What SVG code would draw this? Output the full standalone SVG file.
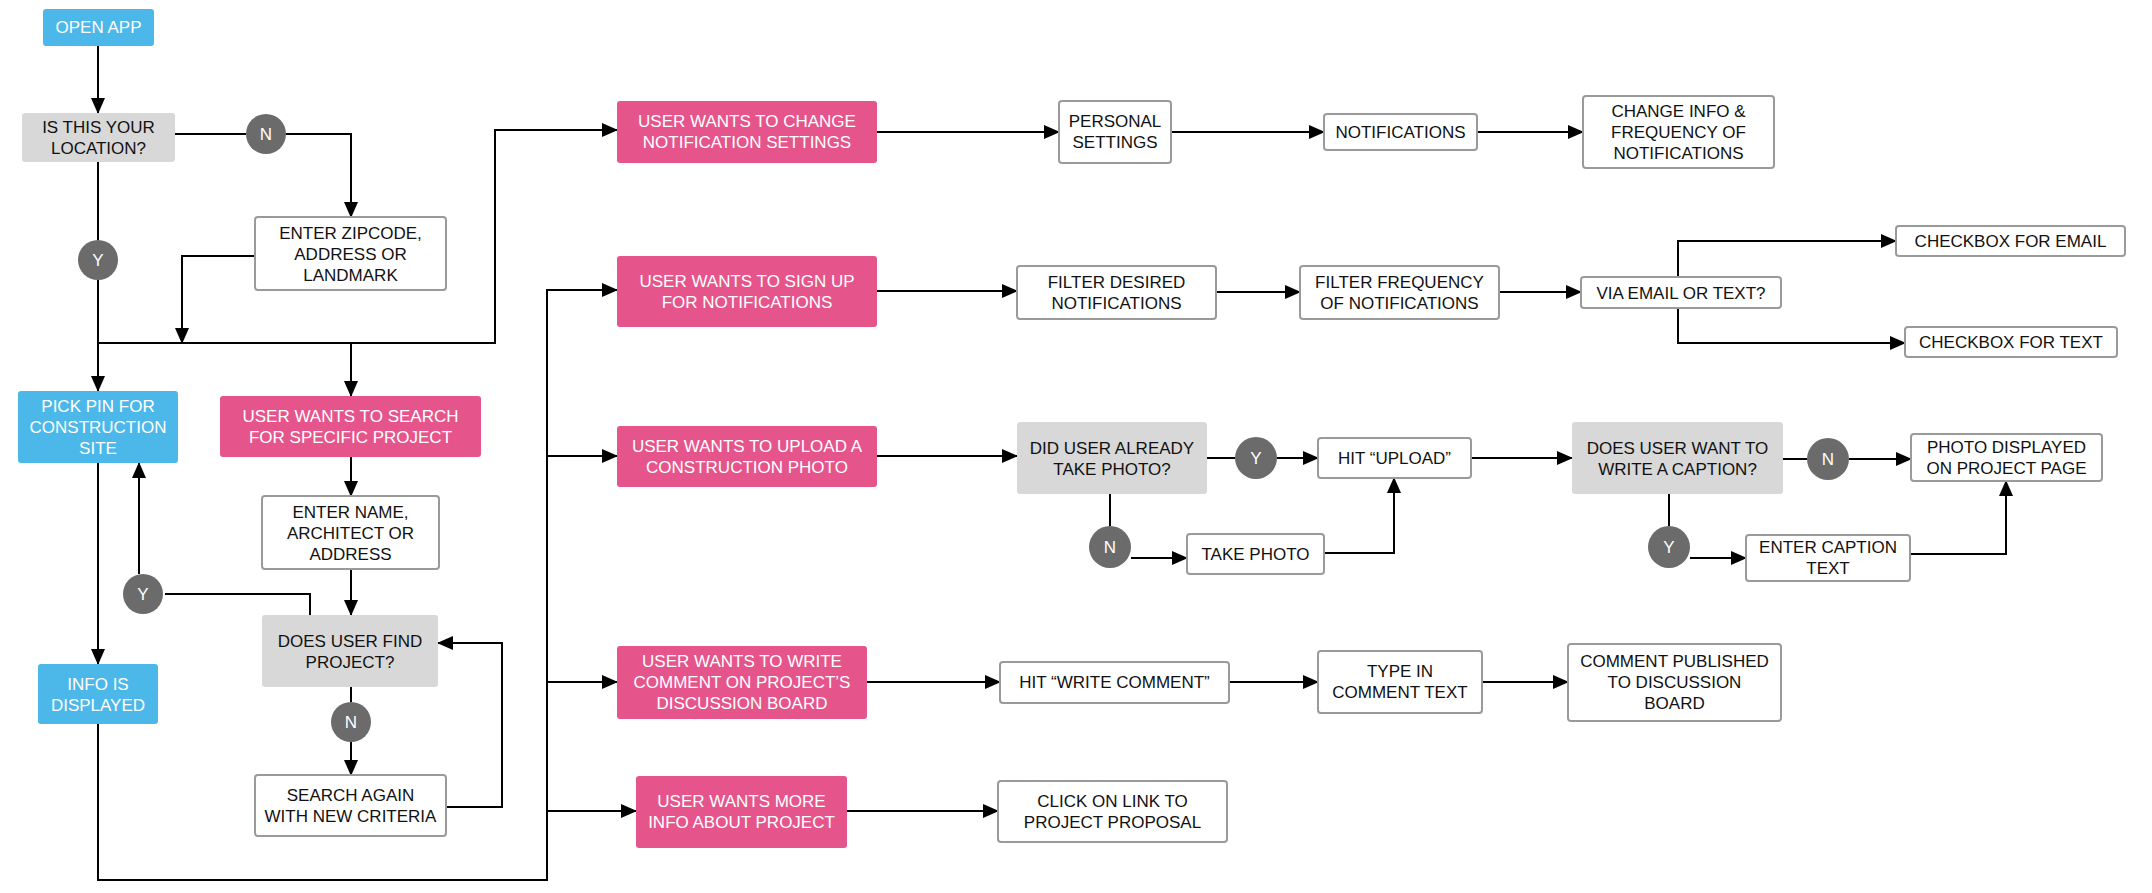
<svg xmlns="http://www.w3.org/2000/svg" width="2152" height="893" viewBox="0 0 2152 893">
<defs>
<style>
text{font-family:"Liberation Sans",Arial,sans-serif;font-size:17px;text-anchor:middle;dominant-baseline:central}
.blue{fill:#4cb8e9}.pink{fill:#e5558b}.gray{fill:#d8d8d8}
.wb{fill:#fff;stroke:#9a9a9a;stroke-width:2}
.wt{fill:#fff}.bt{fill:#111}
.c{fill:#6b6b6b}
.ln{fill:none;stroke:#000;stroke-width:2}
.a{marker-end:url(#ar)}
</style>
<marker id="ar" markerUnits="userSpaceOnUse" markerWidth="16" markerHeight="14" refX="15" refY="7" orient="auto"><path d="M0,0L16,7L0,14Z" fill="#000"/></marker>
</defs>
<rect width="2152" height="893" fill="#fff"/>
<g id="connectors">
<path class="ln a" d="M98,46V113"/>
<path class="ln" d="M175,134H246"/><path class="ln a" d="M286,134H351V217"/>
<path class="ln" d="M98,162V240"/><path class="ln a" d="M98,280V391"/>
<path class="ln a" d="M255,256H182V343"/>
<path class="ln a" d="M98,343H495V130H617"/>
<path class="ln a" d="M351,343V396"/>
<path class="ln a" d="M351,457V496"/>
<path class="ln a" d="M351,569V615"/>
<path class="ln" d="M310,615V594H165"/><path class="ln a" d="M139,574V463"/>
<path class="ln" d="M351,687V702"/><path class="ln a" d="M351,742V775"/>
<path class="ln a" d="M446,807H502V643H438"/>
<path class="ln a" d="M98,463V664"/>
<path class="ln a" d="M98,724V880H547V290H617"/>
<path class="ln a" d="M547,456H617"/><path class="ln a" d="M547,682H617"/><path class="ln a" d="M547,811H636"/>
<path class="ln a" d="M877,132H1059"/><path class="ln a" d="M1171,132H1324"/><path class="ln a" d="M1477,132H1583"/>
<path class="ln a" d="M877,291H1017"/><path class="ln a" d="M1216,292H1300"/><path class="ln a" d="M1499,292H1581"/>
<path class="ln a" d="M1678,277V241H1896"/><path class="ln a" d="M1678,308V343H1905"/>
<path class="ln a" d="M877,456H1017"/><path class="ln" d="M1207,458H1235"/><path class="ln a" d="M1277,458H1318"/>
<path class="ln a" d="M1471,458H1572"/><path class="ln" d="M1783,459H1807"/><path class="ln a" d="M1849,459H1911"/>
<path class="ln" d="M1110,494V526"/><path class="ln a" d="M1131,558H1187"/><path class="ln a" d="M1324,553H1394V478"/>
<path class="ln" d="M1669,494V526"/><path class="ln a" d="M1690,558H1746"/><path class="ln a" d="M1910,554H2006V481"/>
<path class="ln a" d="M867,682H1000"/><path class="ln a" d="M1229,682H1318"/><path class="ln a" d="M1482,682H1568"/>
<path class="ln a" d="M847,811H998"/>
</g>
<g id="open-app"><rect class="blue" x="43" y="9" width="111" height="37" rx="3"/><text class="wt" x="98.5" y="27.5">OPEN APP</text></g>
<g id="is-location"><rect class="gray" x="22" y="113" width="153" height="49" rx="3"/><text class="bt" x="98.5" y="127">IS THIS YOUR</text><text class="bt" x="98.5" y="148">LOCATION?</text></g>
<g id="n1"><circle class="c" cx="266" cy="134" r="20"/><text class="wt" x="266" y="134">N</text></g>
<g id="zip"><rect class="wb" x="255" y="217" width="191" height="73" rx="3"/><text class="bt" x="350.5" y="233">ENTER ZIPCODE,</text><text class="bt" x="350.5" y="254">ADDRESS OR</text><text class="bt" x="350.5" y="275">LANDMARK</text></g>
<g id="y1"><circle class="c" cx="98" cy="260" r="20"/><text class="wt" x="98" y="260">Y</text></g>
<g id="pick-pin"><rect class="blue" x="18" y="391" width="160" height="72" rx="3"/><text class="wt" x="98" y="406">PICK PIN FOR</text><text class="wt" x="98" y="427">CONSTRUCTION</text><text class="wt" x="98" y="448">SITE</text></g>
<g id="search"><rect class="pink" x="220" y="396" width="261" height="61" rx="3"/><text class="wt" x="350.5" y="416">USER WANTS TO SEARCH</text><text class="wt" x="350.5" y="437">FOR SPECIFIC PROJECT</text></g>
<g id="enter-name"><rect class="wb" x="262" y="496" width="177" height="73" rx="3"/><text class="bt" x="350.5" y="512">ENTER NAME,</text><text class="bt" x="350.5" y="533">ARCHITECT OR</text><text class="bt" x="350.5" y="554">ADDRESS</text></g>
<g id="y2"><circle class="c" cx="143" cy="594" r="20"/><text class="wt" x="143" y="594">Y</text></g>
<g id="find"><rect class="gray" x="262" y="615" width="176" height="72" rx="3"/><text class="bt" x="350" y="641">DOES USER FIND</text><text class="bt" x="350" y="662">PROJECT?</text></g>
<g id="n2"><circle class="c" cx="351" cy="722" r="20"/><text class="wt" x="351" y="722">N</text></g>
<g id="search-again"><rect class="wb" x="255" y="775" width="191" height="61" rx="3"/><text class="bt" x="350.5" y="795">SEARCH AGAIN</text><text class="bt" x="350.5" y="816">WITH NEW CRITERIA</text></g>
<g id="info"><rect class="blue" x="38" y="664" width="120" height="60" rx="3"/><text class="wt" x="98" y="684">INFO IS</text><text class="wt" x="98" y="705">DISPLAYED</text></g>
<g id="change-notif"><rect class="pink" x="617" y="101" width="260" height="62" rx="3"/><text class="wt" x="747" y="121">USER WANTS TO CHANGE</text><text class="wt" x="747" y="142">NOTIFICATION SETTINGS</text></g>
<g id="personal"><rect class="wb" x="1059" y="101" width="112" height="62" rx="3"/><text class="bt" x="1115" y="121">PERSONAL</text><text class="bt" x="1115" y="142">SETTINGS</text></g>
<g id="notifications"><rect class="wb" x="1324" y="114" width="153" height="36" rx="3"/><text class="bt" x="1400.5" y="132">NOTIFICATIONS</text></g>
<g id="change-info"><rect class="wb" x="1583" y="96" width="191" height="72" rx="3"/><text class="bt" x="1678.5" y="111">CHANGE INFO &amp;</text><text class="bt" x="1678.5" y="132">FREQUENCY OF</text><text class="bt" x="1678.5" y="153">NOTIFICATIONS</text></g>
<g id="sign-up"><rect class="pink" x="617" y="256" width="260" height="71" rx="3"/><text class="wt" x="747" y="281">USER WANTS TO SIGN UP</text><text class="wt" x="747" y="302">FOR NOTIFICATIONS</text></g>
<g id="filter-desired"><rect class="wb" x="1017" y="266" width="199" height="53" rx="3"/><text class="bt" x="1116.5" y="282">FILTER DESIRED</text><text class="bt" x="1116.5" y="303">NOTIFICATIONS</text></g>
<g id="filter-freq"><rect class="wb" x="1300" y="266" width="199" height="53" rx="3"/><text class="bt" x="1399.5" y="282">FILTER FREQUENCY</text><text class="bt" x="1399.5" y="303">OF NOTIFICATIONS</text></g>
<g id="via"><rect class="wb" x="1581" y="277" width="200" height="31" rx="3"/><text class="bt" x="1681" y="293">VIA EMAIL OR TEXT?</text></g>
<g id="cb-email"><rect class="wb" x="1896" y="226" width="229" height="30" rx="3"/><text class="bt" x="2010.5" y="241.5">CHECKBOX FOR EMAIL</text></g>
<g id="cb-text"><rect class="wb" x="1905" y="327" width="212" height="30" rx="3"/><text class="bt" x="2011" y="342.5">CHECKBOX FOR TEXT</text></g>
<g id="upload"><rect class="pink" x="617" y="426" width="260" height="61" rx="3"/><text class="wt" x="747" y="446">USER WANTS TO UPLOAD A</text><text class="wt" x="747" y="467">CONSTRUCTION PHOTO</text></g>
<g id="did-take"><rect class="gray" x="1017" y="422" width="190" height="72" rx="3"/><text class="bt" x="1112" y="448">DID USER ALREADY</text><text class="bt" x="1112" y="469">TAKE PHOTO?</text></g>
<g id="y3"><circle class="c" cx="1256" cy="458" r="21"/><text class="wt" x="1256" y="458">Y</text></g>
<g id="hit-upload"><rect class="wb" x="1318" y="438" width="153" height="40" rx="3"/><text class="bt" x="1394.5" y="458">HIT “UPLOAD”</text></g>
<g id="caption-q"><rect class="gray" x="1572" y="422" width="211" height="72" rx="3"/><text class="bt" x="1677.5" y="448">DOES USER WANT TO</text><text class="bt" x="1677.5" y="469">WRITE A CAPTION?</text></g>
<g id="n3"><circle class="c" cx="1828" cy="459" r="21"/><text class="wt" x="1828" y="459">N</text></g>
<g id="photo-displayed"><rect class="wb" x="1911" y="434" width="191" height="47" rx="3"/><text class="bt" x="2006.5" y="447">PHOTO DISPLAYED</text><text class="bt" x="2006.5" y="468">ON PROJECT PAGE</text></g>
<g id="n4"><circle class="c" cx="1110" cy="547" r="21"/><text class="wt" x="1110" y="547">N</text></g>
<g id="take-photo"><rect class="wb" x="1187" y="534" width="137" height="40" rx="3"/><text class="bt" x="1255.5" y="554">TAKE PHOTO</text></g>
<g id="y4"><circle class="c" cx="1669" cy="547" r="21"/><text class="wt" x="1669" y="547">Y</text></g>
<g id="enter-caption"><rect class="wb" x="1746" y="535" width="164" height="46" rx="3"/><text class="bt" x="1828" y="547.5">ENTER CAPTION</text><text class="bt" x="1828" y="568.5">TEXT</text></g>
<g id="write-comment"><rect class="pink" x="617" y="646" width="250" height="73" rx="3"/><text class="wt" x="742" y="661.5">USER WANTS TO WRITE</text><text class="wt" x="742" y="682.5">COMMENT ON PROJECT’S</text><text class="wt" x="742" y="703.5">DISCUSSION BOARD</text></g>
<g id="hit-write"><rect class="wb" x="1000" y="662" width="229" height="41" rx="3"/><text class="bt" x="1114.5" y="682.5">HIT “WRITE COMMENT”</text></g>
<g id="type-in"><rect class="wb" x="1318" y="651" width="164" height="62" rx="3"/><text class="bt" x="1400" y="671.5">TYPE IN</text><text class="bt" x="1400" y="692.5">COMMENT TEXT</text></g>
<g id="published"><rect class="wb" x="1568" y="644" width="213" height="77" rx="3"/><text class="bt" x="1674.5" y="661.5">COMMENT PUBLISHED</text><text class="bt" x="1674.5" y="682.5">TO DISCUSSION</text><text class="bt" x="1674.5" y="703.5">BOARD</text></g>
<g id="more-info"><rect class="pink" x="636" y="776" width="211" height="72" rx="3"/><text class="wt" x="741.5" y="801.5">USER WANTS MORE</text><text class="wt" x="741.5" y="822.5">INFO ABOUT PROJECT</text></g>
<g id="click-link"><rect class="wb" x="998" y="781" width="229" height="61" rx="3"/><text class="bt" x="1112.5" y="801">CLICK ON LINK TO</text><text class="bt" x="1112.5" y="822">PROJECT PROPOSAL</text></g>
</svg>
